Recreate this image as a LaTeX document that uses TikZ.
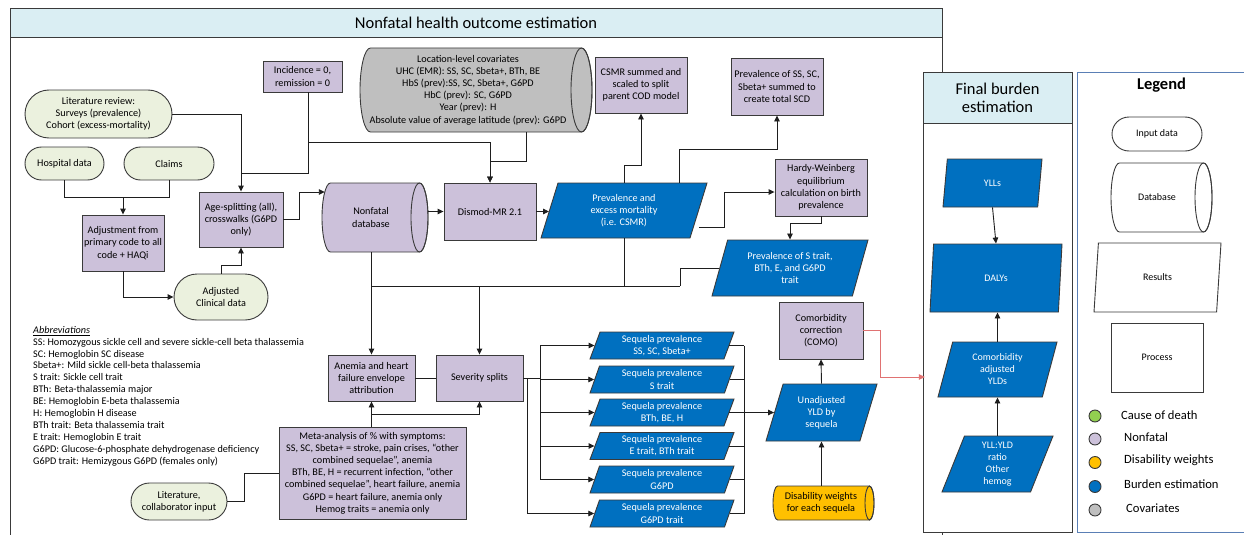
\documentclass[tikz,border=0pt]{standalone}
\usepackage{fontspec}
\setmainfont{Carlito}
\usetikzlibrary{shapes.geometric,shapes.misc,arrows.meta,calc}
\definecolor{lav}{HTML}{CCC1DA}
\definecolor{lgreen}{HTML}{EBF1DE}
\definecolor{bblue}{HTML}{0070C0}
\definecolor{cgray}{HTML}{BFBFBF}
\definecolor{orng}{HTML}{FFC000}
\definecolor{hdr}{HTML}{DAEEF3}
\definecolor{edgec}{HTML}{3A3A3A}
\definecolor{linec}{HTML}{1E1E1E}
\definecolor{legc}{HTML}{5A7FB5}
\definecolor{redc}{HTML}{E07272}
\definecolor{cgreen}{HTML}{92D050}
\newcommand\fsn{\fontsize{10.2}{12.2}\selectfont}
\newcommand\fsbig{\fontsize{16.5}{18}\selectfont}
\newcommand\fsleg{\fontsize{12.6}{14}\selectfont}
\newcommand\fssm{\fontsize{10}{12}\selectfont}
% horizontal cylinder: x0, ytop, x1, ybottom, rx, ry, fill
\newcommand\cylbody[7]{%
  \filldraw[bx, fill=#7] ({#1+#5},#2) arc[start angle=90, end angle=270, x radius=#5pt, y radius=#6pt]
     -- ({#3-#5},#4) arc[start angle=270, end angle=450, x radius=#5pt, y radius=#6pt] -- cycle;
  \draw[bx] ({#3-#5},{(#2+#4)/2}) ellipse [x radius=#5pt, y radius=#6pt];}
\begin{document}
\begin{tikzpicture}[x=1pt,y=-1pt,
  every node/.style={font=\fsn, align=center, inner sep=1pt},
  bx/.style={draw=edgec, line width=0.9pt},
  proc/.style={bx, rectangle, fill=lav},
  inp/.style={bx, rounded rectangle, fill=lgreen},
  par/.style={bx, trapezium, trapezium stretches body, trapezium left angle=65, trapezium right angle=115, fill=bblue, text=white},
  txt/.style={rectangle, draw=none, fill=none},
  ln/.style={draw=linec, line width=0.9pt},
  arr/.style={ln, -{Triangle[length=6pt,width=5.5pt]}},
  dot/.style={circle, draw=edgec, line width=0.9pt, minimum size=12pt, inner sep=0pt},
  legtxt/.style={anchor=west, font=\fsleg},
]
\useasboundingbox (0,0) rectangle (1244,535);

% ---------- main frame ----------
\draw[bx] (10,8) rectangle (942,545);
\filldraw[bx, fill=hdr] (10,8) rectangle (942,37);
\node[font=\fsbig] (ttl) at (476,22.5) {Nonfatal health outcome estimation};

% ---------- final burden frame ----------
\filldraw[bx, fill=white] (923,72) rectangle (1072,532);
\filldraw[bx, fill=hdr] (923,72) rectangle (1072,123);
\node[font=\fsbig] (fbt) at (997.5,97.5) {Final burden\\estimation};

% ---------- legend frame ----------
\draw[draw=legc, line width=0.8pt] (1077,72) rectangle (1246,532);
\node[font=\fsbig\bfseries] (legt) at (1161.5,85) {Legend};

% ---------- nodes ----------
\node[inp, minimum width=149pt, minimum height=48pt] (lit) at (98.5,114) {Literature review:\\Surveys (prevalence)\\Cohort (excess-mortality)};
\node[inp, minimum width=81pt, minimum height=33pt] (hosp) at (64.5,163.5) {Hospital data};
\node[inp, minimum width=92pt, minimum height=33pt] (claims) at (169,163.5) {Claims};
\node[proc, minimum width=82pt, minimum height=56pt] (adj) at (123,243) {Adjustment from\\primary code to all\\code + HAQi};
\node[inp, minimum width=96pt, minimum height=46pt] (adjc) at (221,297) {Adjusted\\Clinical data};
\node[proc, minimum width=84pt, minimum height=55pt] (age) at (241,219.5) {Age-splitting (all),\\crosswalks (G6PD\\only)};
\node[proc, minimum width=79pt, minimum height=31pt] (inc) at (302.5,76.5) {Incidence = 0,\\remission = 0};
\cylbody{360}{48}{592}{132}{10.5}{42}{cgray}
\node[txt, minimum width=200pt, minimum height=84pt] (cov) at (468,90) {Location-level covariates\\UHC (EMR): SS, SC, Sbeta+, BTh, BE\\HbS (prev):SS, SC, Sbeta+, G6PD\\HbC (prev): SC, G6PD\\Year (prev): H\\Absolute value of average latitude (prev): G6PD};
\cylbody{322}{183}{428}{252}{8.5}{34.5}{lav}
\node[txt, minimum width=98pt, minimum height=69pt] (nfdb) at (371,217.5) {Nonfatal\\database};
\node[proc, minimum width=92pt, minimum height=57pt] (dismod) at (490,211.5) {Dismod-MR 2.1};
\node[par, trapezium left angle=64, trapezium right angle=116, minimum width=166pt, minimum height=55pt] (prev) at (624,210.5) {Prevalence and\\excess mortality\\(i.e. CSMR)};
\node[proc, minimum width=92pt, minimum height=56pt] (csmr) at (641,85) {CSMR summed and\\scaled to split\\parent COD model};
\node[proc, minimum width=92pt, minimum height=57pt] (pss) at (777,86.5) {Prevalence of SS, SC,\\Sbeta+ summed to\\create total SCD};
\node[proc, minimum width=92pt, minimum height=57pt] (hw) at (821,187.5) {Hardy-Weinberg\\equilibrium\\calculation on birth\\prevalence};
\node[par, minimum width=156pt, minimum height=56pt] (strait) at (790,268) {Prevalence of S trait,\\BTh, E, and G6PD\\trait};
\node[proc, minimum width=87pt, minimum height=46pt] (anemia) at (371.5,378) {Anemia and heart\\failure envelope\\attribution};
\node[proc, minimum width=87pt, minimum height=46pt] (sev) at (479.5,378) {Severity splits};
\node[proc, minimum width=187pt, minimum height=92pt] (meta) at (372.5,473) {Meta-analysis of \% with symptoms:\\SS, SC, Sbeta+ = stroke, pain crises, “other\\combined sequelae”, anemia\\BTh, BE, H = recurrent infection, “other\\combined sequelae”, heart failure, anemia\\G6PD = heart failure, anemia only\\Hemog traits = anemia only};
\node[inp, minimum width=98pt, minimum height=37pt] (litc) at (179,501.5) {Literature,\\collaborator input};

\node[par, trapezium left angle=66, trapezium right angle=114, minimum width=144pt, minimum height=27pt] (seq1) at (662,345.5) {Sequela prevalence\\SS, SC, Sbeta+};
\node[par, trapezium left angle=66, trapezium right angle=114, minimum width=144pt, minimum height=27pt] (seq2) at (662,379.5) {Sequela prevalence\\S trait};
\node[par, trapezium left angle=66, trapezium right angle=114, minimum width=144pt, minimum height=27pt] (seq3) at (662,412.5) {Sequela prevalence\\BTh, BE, H};
\node[par, trapezium left angle=66, trapezium right angle=114, minimum width=144pt, minimum height=27pt] (seq4) at (662,446) {Sequela prevalence\\E trait, BTh trait};
\node[par, trapezium left angle=66, trapezium right angle=114, minimum width=144pt, minimum height=27pt] (seq5) at (662,479.5) {Sequela prevalence\\G6PD};
\node[par, trapezium left angle=66, trapezium right angle=114, minimum width=144pt, minimum height=27pt] (seq6) at (662,513.5) {Sequela prevalence\\G6PD trait};

\node[par, trapezium left angle=64, trapezium right angle=116, minimum width=111pt, minimum height=57pt] (unadj) at (821.5,412.5) {Unadjusted\\YLD by\\sequela};
\node[proc, minimum width=84pt, minimum height=57pt] (como) at (821,330.5) {Comorbidity\\correction\\(COMO)};
\cylbody{773}{486}{874}{520}{4.5}{17}{orng}
\node[txt, minimum width=90pt, minimum height=34pt] (dw) at (821,503) {Disability weights\\for each sequela};

% final burden column
\node[par, trapezium left angle=63, trapezium right angle=117, minimum width=99pt, minimum height=48pt, font=\fssm] (ylls) at (992.5,183) {YLLs};
\node[par, trapezium left angle=67, trapezium right angle=113, minimum width=132pt, minimum height=68pt, font=\fssm] (dalys) at (996,278) {DALYs};
\node[par, trapezium left angle=66, trapezium right angle=114, minimum width=119pt, minimum height=55pt, font=\fssm] (cadj) at (997.5,369.5) {Comorbidity\\adjusted\\YLDs};
\node[par, trapezium left angle=64, trapezium right angle=116, minimum width=111pt, minimum height=56pt, font=\fssm] (yllr) at (997.5,464) {YLL:YLD\\ratio\\Other\\hemog};

% legend shapes
\node[bx, rounded rectangle, fill=white, minimum width=92pt, minimum height=34pt, font=\fssm] (lin) at (1157,134) {Input data};
\cylbody{1111}{163}{1212}{232}{8.5}{34.5}{white}
\node[txt, minimum width=90pt, minimum height=69pt, font=\fssm] (ldb) at (1157,197.5) {Database};
\node[bx, trapezium, trapezium stretches body, trapezium left angle=64, trapezium right angle=116, fill=white, minimum width=127pt, minimum height=69pt, font=\fssm] (lres) at (1157.5,277.5) {Results};
\node[bx, rectangle, fill=white, minimum width=92pt, minimum height=69pt, font=\fssm] (lproc) at (1157,357.5) {Process};
\node[dot, fill=cgreen] (d1) at (1095,416) {};
\node[dot, fill=lav] (d2) at (1095,439) {};
\node[dot, fill=orng] (d3) at (1095,462.5) {};
\node[dot, fill=bblue] (d4) at (1095,486.5) {};
\node[dot, fill=cgray] (d5) at (1095,510) {};
\node[legtxt] (t1) at (1120,415) {Cause of death};
\node[legtxt] (t2) at (1123,437.5) {Nonfatal};
\node[legtxt] (t3) at (1123,460.5) {Disability weights};
\node[legtxt] (t4) at (1123,484.5) {Burden estimation};
\node[legtxt] (t5) at (1125,508) {Covariates};

% abbreviations
\node[anchor=north west, align=left, inner sep=0pt, font=\fontsize{10.2}{11.9}\selectfont] (abbr) at (33,326) {\underline{\textit{Abbreviations}}\\
SS: Homozygous sickle cell and severe sickle-cell beta thalassemia\\
SC: Hemoglobin SC disease\\
Sbeta+: Mild sickle cell-beta thalassemia\\
S trait: Sickle cell trait\\
BTh: Beta-thalassemia major\\
BE: Hemoglobin E-beta thalassemia\\
H: Hemoglobin H disease\\
BTh trait: Beta thalassemia trait\\
E trait: Hemoglobin E trait\\
G6PD: Glucose-6-phosphate dehydrogenase deficiency\\
G6PD trait: Hemizygous G6PD (females only)};

% ---------- connectors ----------
\coordinate (jAge) at (241,173);
\coordinate (jInc) at (308,142);
\coordinate (jCov) at (526,161);
\coordinate (jHC) at (123,197);
\coordinate (busL) at (371.5,286);
\coordinate (busR) at (680,286);
\coordinate (jM) at (371.5,414);
\coordinate (sb1) at (540,345.5);
\coordinate (sb5) at (540,479.5);
\coordinate (rb1) at (744,345.5);
\coordinate (rb6) at (744,513.5);

\draw[arr] (lit.east) -| (age.north);
\draw[ln] ($(inc.south)+(5.5,0)$) |- (jAge);
\draw[arr] (jInc) -| (dismod.north);
\draw[arr] ($(cov.south)+(58,0)$) -- (jCov) -| (dismod.north);
\draw[ln] (hosp.south) |- (jHC);
\draw[ln] (claims.south) |- (jHC);
\draw[arr] (jHC) -- (adj.north);
\draw[arr] (adj.south) |- (adjc.west);
\draw[arr] (adjc.north) |- ($(age.south)+(0,18)$) -- (age.south);
\draw[arr] (age.east) -- ++(16,0) |- ($(nfdb.west)+(3,-25.5)$);
\draw[arr] ($(nfdb.east)+(8,-6)$) -- (dismod.west);
\draw[arr] (dismod.east) -- (dismod.east -| prev.west);
\draw[arr] (prev.north) |- ($(csmr.south)+(0,52)$) -- (csmr.south);
\draw[arr] ($(prev.north)+(55,0)$) |- ($(pss.south)+(0,34)$) -- (pss.south);
\draw[arr] ($(prev.east)+(0,16.5)$) -- ++(25,0) |- ($(hw.west)+(0,4.5)$);
\draw[arr] (hw.south) |- ($(strait.north)+(0,-16)$) -- (strait.north);
\draw[arr] (anemia.north |- nfdb.south) -- (anemia.north);
\draw[ln] (busL) -- (busR);
\draw[ln] (prev.south) -- (prev.south |- busL);
\draw[ln] (strait.west) -| (busR);
\draw[arr] (sev.north |- busL) -- (sev.north);
\draw[ln] (anemia.east) -- (sev.west);
\draw[arr] (anemia.south |- meta.north) -- (anemia.south);
\draw[arr] (jM) -| (sev.south);
\draw[ln] (litc.east) -- ++(17,0) |- (meta.west);
\draw[ln] (sev.east) -- (sev.east -| sb1);
\draw[ln] (sb1) -- (sb5);
\foreach \s in {seq1,seq2,seq3,seq4,seq5}{\draw[arr] (\s.west -| sb1) -- (\s.west);}
\draw[arr] (sev.east) -- ++(4,0) |- (seq6.west);
\foreach \s in {seq1,seq2,seq3,seq4,seq5,seq6}{\draw[ln] (\s.east) -- (\s.east -| rb1);}
\draw[ln] (rb1) -- (rb6);
\draw[arr] (rb1 |- unadj.west) -- (unadj.west);
\draw[arr] (unadj.north) -- (como.south);
\draw[arr] (unadj.south |- dw.north) -- (unadj.south);
\draw[line width=0.9pt, draw=redc, -{Triangle[length=6pt,width=5.5pt]}] (como.east) -- ++(17,0) |- ($(cadj.west)+(-20,7.5)$);
\draw[arr] (ylls.south) -- (dalys.north);
\draw[arr] (cadj.north) -- (cadj.north |- dalys.south);
\draw[arr] (yllr.north) -- (yllr.north |- cadj.south);
\end{tikzpicture}
\end{document}
